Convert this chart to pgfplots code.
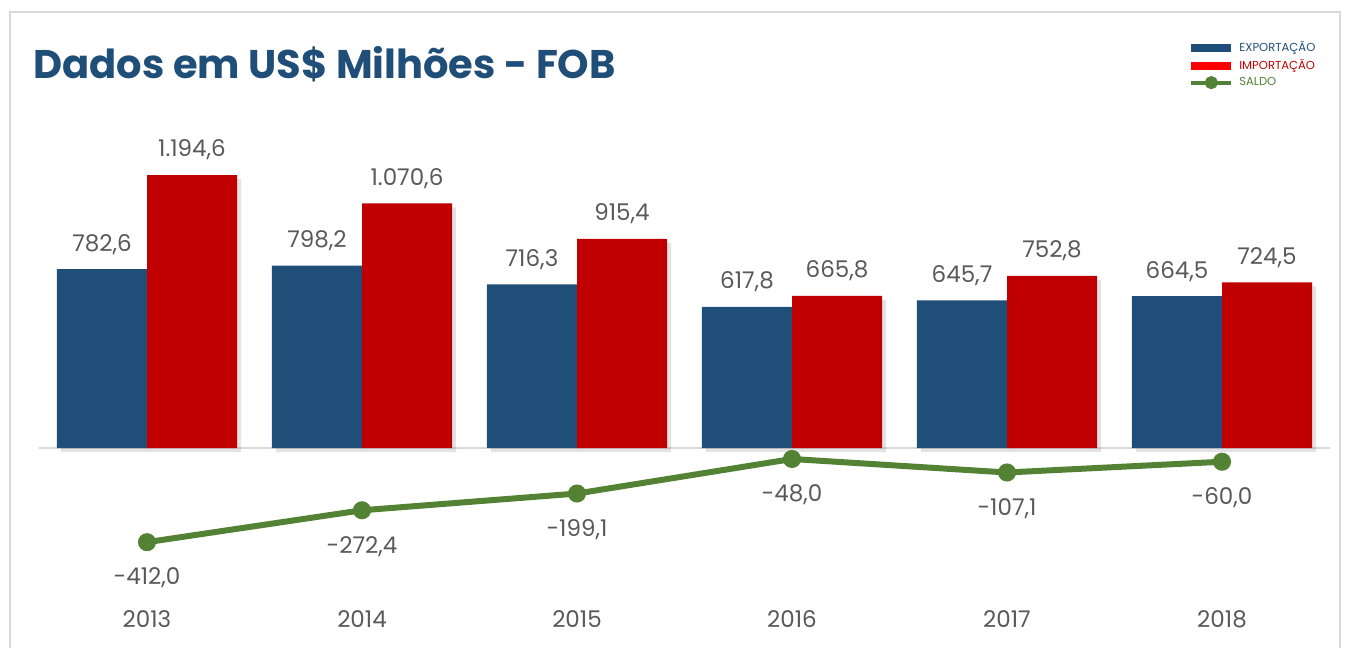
\documentclass[border=0pt]{standalone}
\usepackage{pgfplots}
\pgfplotsset{compat=1.18}
\usepackage{fontspec}
\setmainfont{Poppins}
\usetikzlibrary{shadows}
\definecolor{expblue}{HTML}{1F4E79}
\definecolor{impred}{HTML}{C00000}
\definecolor{saldogreen}{HTML}{548235}
\definecolor{labelgray}{HTML}{595959}
\definecolor{framegray}{HTML}{D9D9D9}

\begin{document}
\begin{tikzpicture}
\useasboundingbox (0,0) rectangle (674.5pt,-324pt);
\draw[framegray, line width=1pt] (5pt,-324pt) -- (5pt,-6pt) -- (670pt,-6pt) -- (670pt,-324pt);
\node[anchor=base west, font=\bfseries\fontsize{20}{24}\selectfont, text=expblue, inner sep=0pt] at (16.5pt,-39pt) {Dados em US\$ Milhões - FOB};

\begin{axis}[
  at={(19.75pt,-286.85pt)}, anchor=south west,
  scale only axis, width=645pt, height=222.8pt,
  xmin=-0.5, xmax=5.5, ymin=-550, ymax=1400,
  axis line style={draw=none},
  ytick=\empty,
  xtick={0,1,2,3,4,5},
  xticklabels={2013,2014,2015,2016,2017,2018},
  major tick length=0pt,
  xticklabel style={font=\fontsize{11.5}{13}\selectfont, text=labelgray, yshift=-15pt},
  clip=false,
  point meta=explicit symbolic,
  every node near coord/.append style={font=\fontsize{11.5}{13}\selectfont, text=labelgray, anchor=center},
  legend style={at={(0.8895,1.205)}, anchor=north west, draw=none, fill=none,
    font=\fontsize{5.8}{7}\selectfont, row sep=-1.5pt, inner sep=0pt},
  legend cell align=left,
]
\draw[framegray, line width=0.8pt] (axis cs:-0.5,0) -- (axis cs:5.5,0);

\addplot[ybar, bar width=0.419, bar shift=-0.2095, fill=expblue, draw=none,
  drop shadow={shadow xshift=2pt, shadow yshift=-2pt, opacity=0.22},
  nodes near coords, every node near coord/.append style={yshift=12.5pt, xshift=-22.5pt},
  legend image code/.code={\draw[expblue, line width=4pt] (0pt,0pt) -- (20pt,0pt);}]
  coordinates {(0,782.6) [782,6] (1,798.2) [798,2] (2,716.3) [716,3]
               (3,617.8) [617,8] (4,645.7) [645,7] (5,664.5) [664,5]};
\addlegendentry{\textcolor{expblue}{EXPORTAÇÃO}}

\addplot[ybar, bar width=0.419, bar shift=0.2095, fill=impred, draw=none,
  drop shadow={shadow xshift=2pt, shadow yshift=-2pt, opacity=0.22},
  nodes near coords, every node near coord/.append style={yshift=12.5pt, xshift=22.5pt},
  legend image code/.code={\draw[red, line width=4pt] (0pt,0pt) -- (20pt,0pt);}]
  coordinates {(0,1194.6) [1.194,6] (1,1070.6) [1.070,6] (2,915.4) [915,4]
               (3,665.8) [665,8] (4,752.8) [752,8] (5,724.5) [724,5]};
\addlegendentry{\textcolor{impred}{IMPORTAÇÃO}}

\addplot[saldogreen, line width=3pt, mark=*, mark size=3pt,
  nodes near coords, every node near coord/.append style={yshift=-18pt},
  legend image code/.code={\draw[saldogreen, line width=2pt] (0pt,0pt) -- (20pt,0pt);
    \fill[saldogreen] (10pt,0pt) circle (1.7pt);}]
  coordinates {(0,-412.0) [-412,0] (1,-272.4) [-272,4] (2,-199.1) [-199,1]
               (3,-48.0) [-48,0] (4,-107.1) [-107,1] (5,-60.0) [-60,0]};
\addlegendentry{\textcolor{saldogreen}{SALDO}}
\end{axis}
\end{tikzpicture}
\end{document}
